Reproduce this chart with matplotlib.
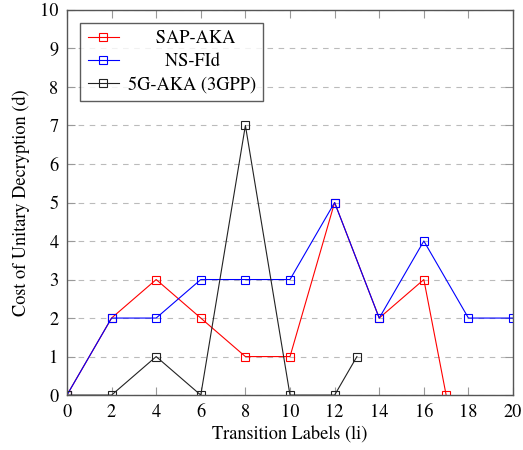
import matplotlib
matplotlib.use("Agg")
import matplotlib.pyplot as plt

plt.rcParams['font.family'] = ['TeX Gyre Termes', 'Liberation Serif', 'DejaVu Serif']

sap_x = [0, 2, 4, 6, 8, 10, 12, 14, 16, 17]
sap_y = [0, 2, 3, 2, 1, 1, 5, 2, 3, 0]
ns_x = [0, 2, 4, 6, 8, 10, 12, 14, 16, 18, 20]
ns_y = [0, 2, 2, 3, 3, 3, 5, 2, 4, 2, 2]
g5_x = [0, 2, 4, 6, 8, 10, 12, 13]
g5_y = [0, 0, 1, 0, 7, 0, 0, 1]
labels = ['SAP-AKA', 'NS-FId', '5G-AKA (3GPP)']

FS = 13.2
fig = plt.figure(figsize=(5.23, 4.5), dpi=100)
ax = fig.add_axes([0.128, 0.122, 0.853, 0.856])

mk = dict(marker='s', markersize=6, markerfacecolor='none', markeredgewidth=0.8, linewidth=0.8)
ax.plot(sap_x, sap_y, color='red', label=labels[0], **mk)
ax.plot(ns_x, ns_y, color='blue', label=labels[1], **mk)
ax.plot(g5_x, g5_y, color='#222222', label=labels[2], **mk)

ax.set_xlim(0, 20)
ax.set_ylim(0, 10)
ax.set_xticks(range(0, 21, 2))
ax.set_yticks(range(0, 11))
ax.yaxis.grid(True, linestyle=(0, (5, 5)), color='#bbbbbb', linewidth=0.8)
ax.set_axisbelow(True)
ax.tick_params(direction='in', labelsize=FS, length=6, color='#999999', top=True, right=True, pad=6)
for s in ax.spines.values():
    s.set_linewidth(1.0)
    s.set_color('#555555')
ax.set_xlabel('Transition Labels (li)', fontsize=FS, labelpad=4)
ax.set_ylabel('Cost of Unitary Decryption (d)', fontsize=FS, labelpad=7)

leg = ax.legend(loc='upper left', bbox_to_anchor=(0.03, 0.967), fontsize=FS, frameon=True,
                fancybox=False, edgecolor='#333333', handlelength=1.7, borderpad=0.4,
                labelspacing=0.33, handletextpad=0.5, borderaxespad=0.0)
leg.get_frame().set_linewidth(1.0)

# center legend labels within the text column, as in the reference
fig.canvas.draw()
r = fig.canvas.get_renderer()
texts = leg.get_texts()
widths = [t.get_window_extent(r).width for t in texts]
maxw = max(widths)
probe = fig.text(0, 0, '\u2007' * 20, fontsize=FS)
sp_w = probe.get_window_extent(r).width / 20
probe.remove()
for t, w in zip(texts, widths):
    n = int(round((maxw - w) / 2 / sp_w)) if sp_w > 0 else 0
    t.set_text('\u2007' * n + t.get_text())

fig.savefig('out.png', dpi=100)
